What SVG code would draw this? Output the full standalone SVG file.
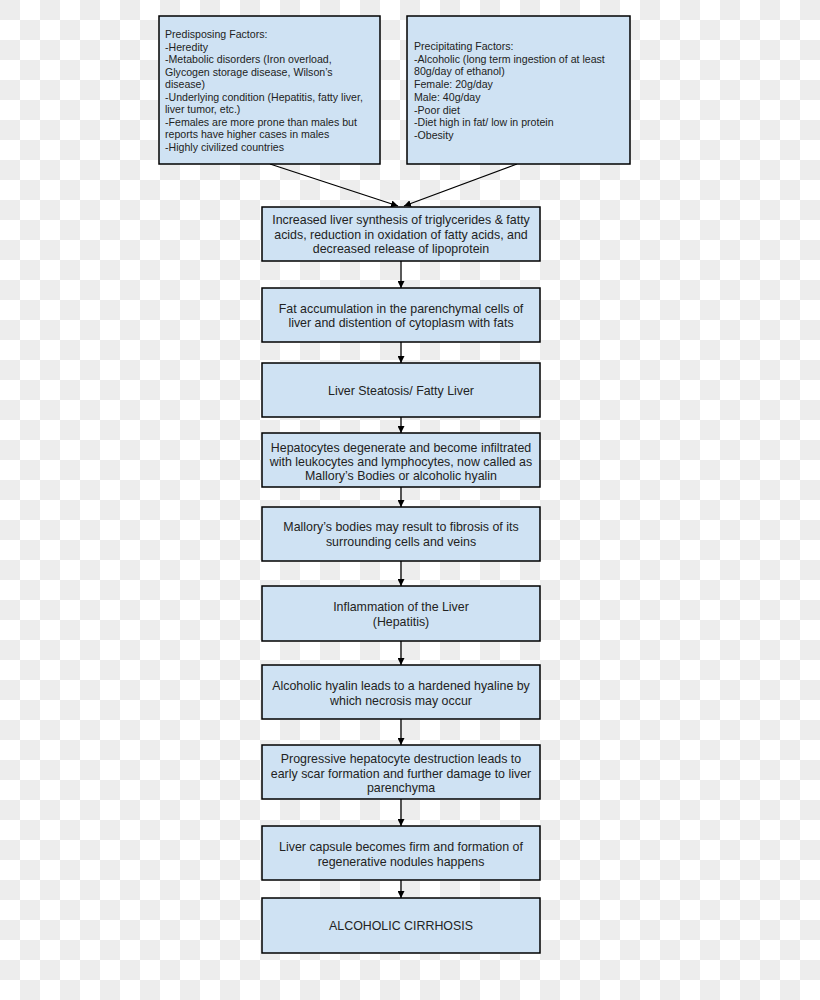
<svg xmlns="http://www.w3.org/2000/svg" width="820" height="1000" viewBox="0 0 820 1000">
<style>
.box{fill:#cfe2f3;stroke:#000;stroke-width:1.5}
.t{font-family:"Liberation Sans",Arial,sans-serif;font-size:12.4px;fill:#222;text-anchor:middle}
.s{font-family:"Liberation Sans",Arial,sans-serif;font-size:10.6px;fill:#222}
.c{stroke:#000;stroke-width:1.3;fill:none;marker-end:url(#ah)}
</style>
<defs>
<pattern id="chk" width="40" height="40" patternUnits="userSpaceOnUse">
<rect width="40" height="40" fill="#ffffff"/>
<rect width="20" height="20" fill="#ededed"/>
<rect x="20" y="20" width="20" height="20" fill="#ededed"/>
</pattern>
<marker id="ah" viewBox="0 0 10 10" refX="10" refY="5" markerWidth="7" markerHeight="7" markerUnits="userSpaceOnUse" orient="auto">
<path d="M0,0 L10,5 L0,10 z" fill="#000"/>
</marker>
</defs>
<rect width="820" height="1000" fill="url(#chk)"/>

<g id="connectors">
<line class="c" x1="270" y1="164" x2="398" y2="206"/>
<line class="c" x1="517" y1="164" x2="404" y2="206"/>
<line class="c" x1="401" y1="261" x2="401" y2="288"/>
<line class="c" x1="401" y1="342" x2="401" y2="363"/>
<line class="c" x1="401" y1="417" x2="401" y2="433"/>
<line class="c" x1="401" y1="487" x2="401" y2="507"/>
<line class="c" x1="401" y1="561" x2="401" y2="586"/>
<line class="c" x1="401" y1="641" x2="401" y2="665"/>
<line class="c" x1="401" y1="719" x2="401" y2="745"/>
<line class="c" x1="401" y1="799" x2="401" y2="826"/>
<line class="c" x1="401" y1="880" x2="401" y2="898"/>
</g>

<g id="predisposing">
<rect class="box" x="159" y="16" width="221" height="148"/>
<text class="s" x="165" y="38">Predisposing Factors:</text>
<text class="s" x="165" y="50.5">-Heredity</text>
<text class="s" x="165" y="63">-Metabolic disorders (Iron overload,</text>
<text class="s" x="165" y="75.5">Glycogen storage disease, Wilson’s</text>
<text class="s" x="165" y="88">disease)</text>
<text class="s" x="165" y="100.5">-Underlying condition (Hepatitis, fatty liver,</text>
<text class="s" x="165" y="113">liver tumor, etc.)</text>
<text class="s" x="165" y="125.5">-Females are more prone than males but</text>
<text class="s" x="165" y="138">reports have higher cases in males</text>
<text class="s" x="165" y="150.5">-Highly civilized countries</text>
</g>

<g id="precipitating">
<rect class="box" x="407" y="16" width="223" height="148"/>
<text class="s" x="414" y="50">Precipitating Factors:</text>
<text class="s" x="414" y="62.7">-Alcoholic (long term ingestion of at least</text>
<text class="s" x="414" y="75.4">80g/day of ethanol)</text>
<text class="s" x="414" y="88.1">Female: 20g/day</text>
<text class="s" x="414" y="100.8">Male: 40g/day</text>
<text class="s" x="414" y="113.5">-Poor diet</text>
<text class="s" x="414" y="126.2">-Diet high in fat/ low in protein</text>
<text class="s" x="414" y="138.9">-Obesity</text>
</g>

<g id="n1">
<rect class="box" x="262" y="207" width="278" height="54"/>
<text class="t" x="401" y="224">Increased liver synthesis of triglycerides &amp; fatty</text>
<text class="t" x="401" y="238.5">acids, reduction in oxidation of fatty acids, and</text>
<text class="t" x="401" y="253">decreased release of lipoprotein</text>
</g>
<g id="n2">
<rect class="box" x="262" y="288" width="278" height="54"/>
<text class="t" x="401" y="312.5">Fat accumulation in the parenchymal cells of</text>
<text class="t" x="401" y="327">liver and distention of cytoplasm with fats</text>
</g>
<g id="n3">
<rect class="box" x="262" y="363" width="278" height="54"/>
<text class="t" x="401" y="394.5">Liver Steatosis/ Fatty Liver</text>
</g>
<g id="n4">
<rect class="box" x="262" y="433" width="278" height="54"/>
<text class="t" x="401" y="452">Hepatocytes degenerate and become infiltrated</text>
<text class="t" x="401" y="465.5">with leukocytes and lymphocytes, now called as</text>
<text class="t" x="401" y="479.5">Mallory’s Bodies or alcoholic hyalin</text>
</g>
<g id="n5">
<rect class="box" x="262" y="507" width="278" height="54"/>
<text class="t" x="401" y="531">Mallory’s bodies may result to fibrosis of its</text>
<text class="t" x="401" y="545.5">surrounding cells and veins</text>
</g>
<g id="n6">
<rect class="box" x="262" y="586" width="278" height="55"/>
<text class="t" x="401" y="611">Inflammation of the Liver</text>
<text class="t" x="401" y="626">(Hepatitis)</text>
</g>
<g id="n7">
<rect class="box" x="262" y="665" width="278" height="54"/>
<text class="t" x="401" y="690">Alcoholic hyalin leads to a hardened hyaline by</text>
<text class="t" x="401" y="704.5">which necrosis may occur</text>
</g>
<g id="n8">
<rect class="box" x="262" y="745" width="278" height="54"/>
<text class="t" x="401" y="762.5">Progressive hepatocyte destruction leads to</text>
<text class="t" x="401" y="777.5">early scar formation and further damage to liver</text>
<text class="t" x="401" y="792">parenchyma</text>
</g>
<g id="n9">
<rect class="box" x="262" y="826" width="278" height="54"/>
<text class="t" x="401" y="851">Liver capsule becomes firm and formation of</text>
<text class="t" x="401" y="865.5">regenerative nodules happens</text>
</g>
<g id="n10">
<rect class="box" x="262" y="898" width="278" height="55"/>
<text class="t" x="401" y="930">ALCOHOLIC CIRRHOSIS</text>
</g>
</svg>
